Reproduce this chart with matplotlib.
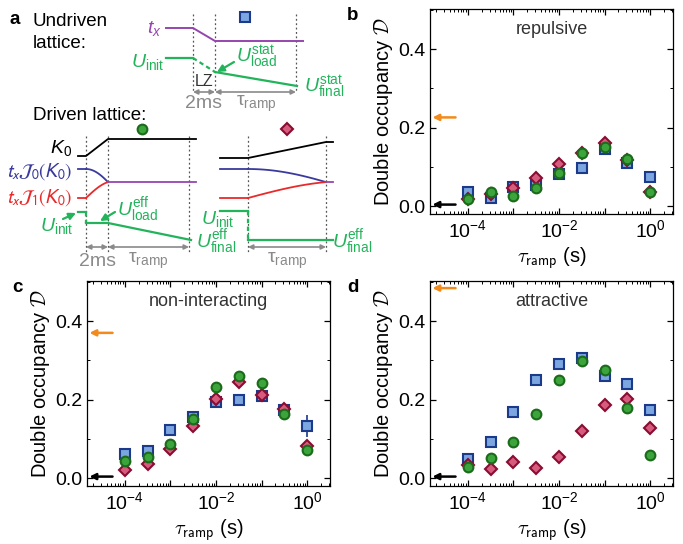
import numpy as np
import matplotlib
matplotlib.use("Agg")
import matplotlib.pyplot as plt
from matplotlib.ticker import FixedLocator, FuncFormatter, MultipleLocator, LogLocator, NullFormatter

plt.rcParams['font.family'] = ['Liberation Sans', 'DejaVu Sans']
plt.rcParams['mathtext.fontset'] = 'custom'
plt.rcParams['mathtext.rm'] = 'Liberation Sans'
plt.rcParams['mathtext.it'] = 'Liberation Sans:italic'
plt.rcParams['mathtext.bf'] = 'Liberation Sans:bold'

# ramp times (s)
tau = [1e-4, 3.16e-4, 1e-3, 3.16e-3, 1e-2, 3.16e-2, 1e-1, 3.16e-1, 1.0]

# panel b: repulsive
rep_square = [0.037, 0.021, 0.049, 0.053, 0.081, 0.097, 0.146, 0.111, 0.073]
rep_diamond = [0.018, 0.031, 0.046, 0.071, 0.108, 0.135, 0.162, 0.118, 0.035]
rep_circle = [0.018, 0.036, 0.026, 0.046, 0.084, 0.136, 0.151, 0.121, 0.037]
rep_square_err = [0.006, 0.006, 0.005, 0.005, 0.005, 0.005, 0.006, 0.006, 0.006]
rep_diamond_err = [0.004, 0.004, 0.004, 0.004, 0.004, 0.004, 0.005, 0.005, 0.005]
rep_circle_err = [0.004, 0.004, 0.004, 0.004, 0.004, 0.004, 0.005, 0.005, 0.005]
rep_arrows = [0.226, 0.004]

# panel c: non-interacting
non_square = [0.061, 0.068, 0.123, 0.157, 0.193, 0.200, 0.208, 0.174, 0.134]
non_diamond = [0.020, 0.036, 0.073, 0.134, 0.201, 0.244, 0.213, 0.176, 0.082]
non_circle = [0.043, 0.055, 0.088, 0.151, 0.231, 0.259, 0.243, 0.164, 0.071]
non_square_err = [0.006, 0.005, 0.005, 0.005, 0.006, 0.005, 0.007, 0.007, 0.028]
non_diamond_err = [0.004, 0.004, 0.004, 0.005, 0.005, 0.005, 0.006, 0.006, 0.008]
non_circle_err = [0.004, 0.004, 0.004, 0.005, 0.005, 0.005, 0.005, 0.006, 0.012]
non_arrows = [0.370, 0.004]

# panel d: attractive
att_square = [0.049, 0.093, 0.169, 0.251, 0.290, 0.307, 0.259, 0.240, 0.174]
att_diamond = [0.033, 0.023, 0.040, 0.027, 0.054, 0.120, 0.187, 0.201, 0.129]
att_circle = [0.029, 0.052, 0.093, 0.163, 0.250, 0.299, 0.276, 0.178, 0.058]
att_square_err = [0.005, 0.005, 0.005, 0.005, 0.005, 0.005, 0.010, 0.008, 0.006]
att_diamond_err = [0.004, 0.004, 0.004, 0.004, 0.004, 0.004, 0.005, 0.005, 0.005]
att_circle_err = [0.004, 0.004, 0.004, 0.004, 0.004, 0.004, 0.005, 0.006, 0.012]
att_arrows = [0.484, 0.004]

SQ = dict(marker='s', ms=6.8, mfc='#7ba6e0', mec='#1c3a8a', ecolor='#1c3a8a')
DI = dict(marker='D', ms=6.6, mfc='#d75b7c', mec='#8a0c32', ecolor='#8a0c32')
CI = dict(marker='o', ms=7.0, mfc='#3ba43b', mec='#1b6b1b', ecolor='#1b6b1b')

PURPLE = '#9645ae'
GREEN = '#22b35b'
BLUE = '#3a3a9e'
RED = '#ea2a2a'
GRAY = '#8a8a8a'

fig = plt.figure(figsize=(6.83, 5.44), dpi=100)

# ---- panel a: schematic drawn in pixel coordinates ----
ax0 = fig.add_axes([0, 0, 1, 1])
ax0.set_xlim(0, 683)
ax0.set_ylim(544, 0)
ax0.axis('off')

fs = 13.5
fm = 14
ax0.text(10, 20, 'a', fontsize=13.5, fontweight='bold', va='center')
ax0.text(33, 22, 'Undriven', fontsize=fs, va='center')
ax0.text(33, 44, 'lattice:', fontsize=fs, va='center')
ax0.text(33, 115, 'Driven lattice:', fontsize=fs, va='center')

def dotted(x, y0, y1):
    ax0.plot([x, x], [y0, y1], color='#555555', lw=0.9, ls=(0, (1.5, 2.0)))

def dbl(x0, x1, y):
    ax0.annotate('', xy=(x1, y), xytext=(x0, y),
                 arrowprops=dict(arrowstyle='<|-|>', color=GRAY, lw=1.2,
                                 mutation_scale=7, shrinkA=0, shrinkB=0))

def arr(x0, y0, x1, y1):
    ax0.annotate('', xy=(x1, y1), xytext=(x0, y0),
                 arrowprops=dict(arrowstyle='-|>', color=GREEN, lw=1.6,
                                 mutation_scale=10, shrinkA=0, shrinkB=0))

# undriven
for x in [193, 215, 296]:
    dotted(x, 14, 92)
ax0.plot([166, 193, 215, 303], [28, 28, 41, 41], color=PURPLE, lw=1.4)
ax0.plot([166, 193], [58, 58], color=GREEN, lw=1.6)
ax0.plot([193, 215], [58, 72], color=GREEN, lw=1.6, ls=(0, (2, 1.5)))
ax0.plot([215, 297], [72, 86], color=GREEN, lw=1.6)
ax0.text(162, 29, '$t_x$', color=PURPLE, fontsize=fm, ha='right', va='center')
ax0.text(164, 62, r'$U_{\rm init}$', color=GREEN, fontsize=fm, ha='right', va='center')
ax0.text(236, 57, r'$U^{\rm stat}_{\rm load}$', color=GREEN, fontsize=fm, ha='left', va='center')
ax0.text(304, 87, r'$U^{\rm stat}_{\rm final}$', color=GREEN, fontsize=fm, ha='left', va='center')
arr(234, 62, 217, 72)
ax0.text(204, 81, 'LZ', color='#333333', fontsize=11.5, ha='center', va='center')
dbl(193, 215, 92)
dbl(215, 296, 92)
ax0.text(204, 104, '2ms', color=GRAY, fontsize=fm, ha='center', va='center')
ax0.text(256, 104, r'τ$_{\rm ramp}$', color=GRAY, fontsize=fm, ha='center', va='center')
ax0.plot([245], [17], marker='s', ms=6.5, mfc='#7ba6e0', mec='#1c3a8a', mew=1.5)

# driven
ax0.plot([142], [129], marker='o', ms=7, mfc='#3ba43b', mec='#1b6b1b', mew=1.5)
ax0.plot([287], [129], marker='D', ms=6.5, mfc='#d75b7c', mec='#8a0c32', mew=1.5)
for x in [86, 108, 189, 248, 326]:
    dotted(x, 136, 252)

kk = np.linspace(0, 1.435, 40)
j0 = 1 - kk**2 / 4 + kk**4 / 64 - kk**6 / 2304
j1 = kk / 2 - kk**3 / 16 + kk**5 / 384
ax0.plot([78, 86, 108, 196], [156, 156, 139, 139], color='black', lw=1.3)
ax0.plot([220, 248, 326, 333], [158, 158, 142, 142], color='black', lw=1.3)
for xa, xb, xs, xe in [(78, 86, 108, 196), (220, 248, 326, 333)]:
    xx = np.linspace(xb, xs, 40)
    ax0.plot([xa, xb], [169, 169], color=BLUE, lw=1.3)
    ax0.plot(xx, 198 - 29 * j0, color=BLUE, lw=1.3)
    ax0.plot([xa, xb], [198, 198], color=RED, lw=1.3)
    ax0.plot(xx, 198 - 29 * j1, color=RED, lw=1.3)
    ax0.plot([xs, xe], [182, 182], color=PURPLE, lw=1.3)
ax0.plot([78, 86], [212, 212], color=GREEN, lw=1.6)
ax0.plot([86, 86], [212, 223], color=GREEN, lw=1.6, ls=(0, (2, 1.5)))
ax0.plot([86, 108, 191], [223, 223, 240], color=GREEN, lw=1.6)
ax0.plot([220, 248], [211, 211], color=GREEN, lw=1.6)
ax0.plot([248, 248], [211, 240], color=GREEN, lw=1.6, ls=(0, (2, 1.5)))
ax0.plot([248, 333], [240, 240], color=GREEN, lw=1.6)

ax0.text(72, 148, '$K_0$', color='black', fontsize=fm, ha='right', va='center')
ax0.text(72, 172, r'$t_x\mathcal{J}_0(K_0)$', color=BLUE, fontsize=fm, ha='right', va='center',
         math_fontfamily='stixsans')
ax0.text(72, 198, r'$t_x\mathcal{J}_1(K_0)$', color=RED, fontsize=fm, ha='right', va='center',
         math_fontfamily='stixsans')
ax0.text(73, 226, r'$U_{\rm init}$', color=GREEN, fontsize=fm, ha='right', va='center')
arr(63, 219, 76, 213)
ax0.text(117, 210, r'$U^{\rm eff}_{\rm load}$', color=GREEN, fontsize=fm, ha='left', va='center')
arr(115, 212, 100, 221)
ax0.text(196, 242, r'$U^{\rm eff}_{\rm final}$', color=GREEN, fontsize=fm, ha='left', va='center')
ax0.text(201, 219, r'$U_{\rm init}$', color=GREEN, fontsize=fm, ha='left', va='center')
ax0.text(332, 242, r'$U^{\rm eff}_{\rm final}$', color=GREEN, fontsize=fm, ha='left', va='center')
dbl(86, 108, 247)
dbl(108, 189, 247)
dbl(248, 326, 247)
ax0.text(97, 261, '2ms', color=GRAY, fontsize=fm, ha='center', va='center')
ax0.text(148, 261, r'τ$_{\rm ramp}$', color=GRAY, fontsize=fm, ha='center', va='center')
ax0.text(287, 261, r'τ$_{\rm ramp}$', color=GRAY, fontsize=fm, ha='center', va='center')

# ---- panels b, c, d ----
panels = [
    ('b', (347, 15), 'repulsive', [0.6296, 0.6066, 0.3558, 0.3768],
     (rep_square, rep_square_err), (rep_diamond, rep_diamond_err), (rep_circle, rep_circle_err), rep_arrows),
    ('c', (12, 287), 'non-interacting', [0.1274, 0.1066, 0.3558, 0.3768],
     (non_square, non_square_err), (non_diamond, non_diamond_err), (non_circle, non_circle_err), non_arrows),
    ('d', (347, 287), 'attractive', [0.6296, 0.1066, 0.3558, 0.3768],
     (att_square, att_square_err), (att_diamond, att_diamond_err), (att_circle, att_circle_err), att_arrows),
]

def fmt_dec(v, pos):
    e = int(round(np.log10(v)))
    if e in (-4, -2, 0):
        return r'$10^{%d}$' % e
    return ''

for letter, lpos, name, rect, sq, di, ci, arrows in panels:
    ax = fig.add_axes(rect)
    for (vals, err), st in [(sq, SQ), (di, DI), (ci, CI)]:
        ax.errorbar(tau, vals, yerr=err, ls='none', marker=st['marker'], ms=st['ms'],
                    mfc=st['mfc'], mec=st['mec'], mew=1.5, ecolor=st['ecolor'],
                    elinewidth=1.2, capsize=0, zorder=3)
    ax.set_xscale('log')
    ax.set_xlim(10**-4.83, 10**0.5)
    ax.set_ylim(-0.02, 0.502)
    ax.xaxis.set_major_locator(FixedLocator([1e-5, 1e-4, 1e-3, 1e-2, 1e-1, 1e0]))
    ax.xaxis.set_major_formatter(FuncFormatter(fmt_dec))
    ax.xaxis.set_minor_locator(LogLocator(base=10, subs=np.arange(2, 10), numticks=20))
    ax.xaxis.set_minor_formatter(NullFormatter())
    ax.yaxis.set_major_locator(MultipleLocator(0.2))
    ax.yaxis.set_minor_locator(MultipleLocator(0.1))
    ax.yaxis.set_major_formatter(FuncFormatter(lambda v, p: '%.1f' % v))
    ax.tick_params(which='both', direction='in', top=True, right=True, labelsize=14)
    ax.tick_params(which='major', length=4, width=0.9)
    ax.tick_params(which='minor', length=2, width=0.7)
    for s in ax.spines.values():
        s.set_linewidth(0.9)
    ax.set_ylabel(r'Double occupancy $\mathcal{D}$', fontsize=14.5, labelpad=2,
                  math_fontfamily='cm')
    ax.set_xlabel(r'$\tau_{\mathsf{ramp}}$ (s)', fontsize=14.5, labelpad=3,
                  math_fontfamily='cm')
    ax.text(0.5, 0.9, name, transform=ax.transAxes, ha='center', va='center',
            fontsize=13, color='#333333')
    ax.annotate('', xy=(0.01, arrows[0]), xytext=(0.105, arrows[0]),
                xycoords=('axes fraction', 'data'), textcoords=('axes fraction', 'data'),
                arrowprops=dict(arrowstyle='-|>', color='#f28a1c', lw=1.8,
                                mutation_scale=9, shrinkA=0, shrinkB=0))
    ax.annotate('', xy=(0.01, arrows[1]), xytext=(0.105, arrows[1]),
                xycoords=('axes fraction', 'data'), textcoords=('axes fraction', 'data'),
                arrowprops=dict(arrowstyle='-|>', color='black', lw=1.8,
                                mutation_scale=9, shrinkA=0, shrinkB=0))
    ax0.text(lpos[0], lpos[1], letter, fontsize=13.5, fontweight='bold', va='center')

fig.savefig('out.png', dpi=100)
